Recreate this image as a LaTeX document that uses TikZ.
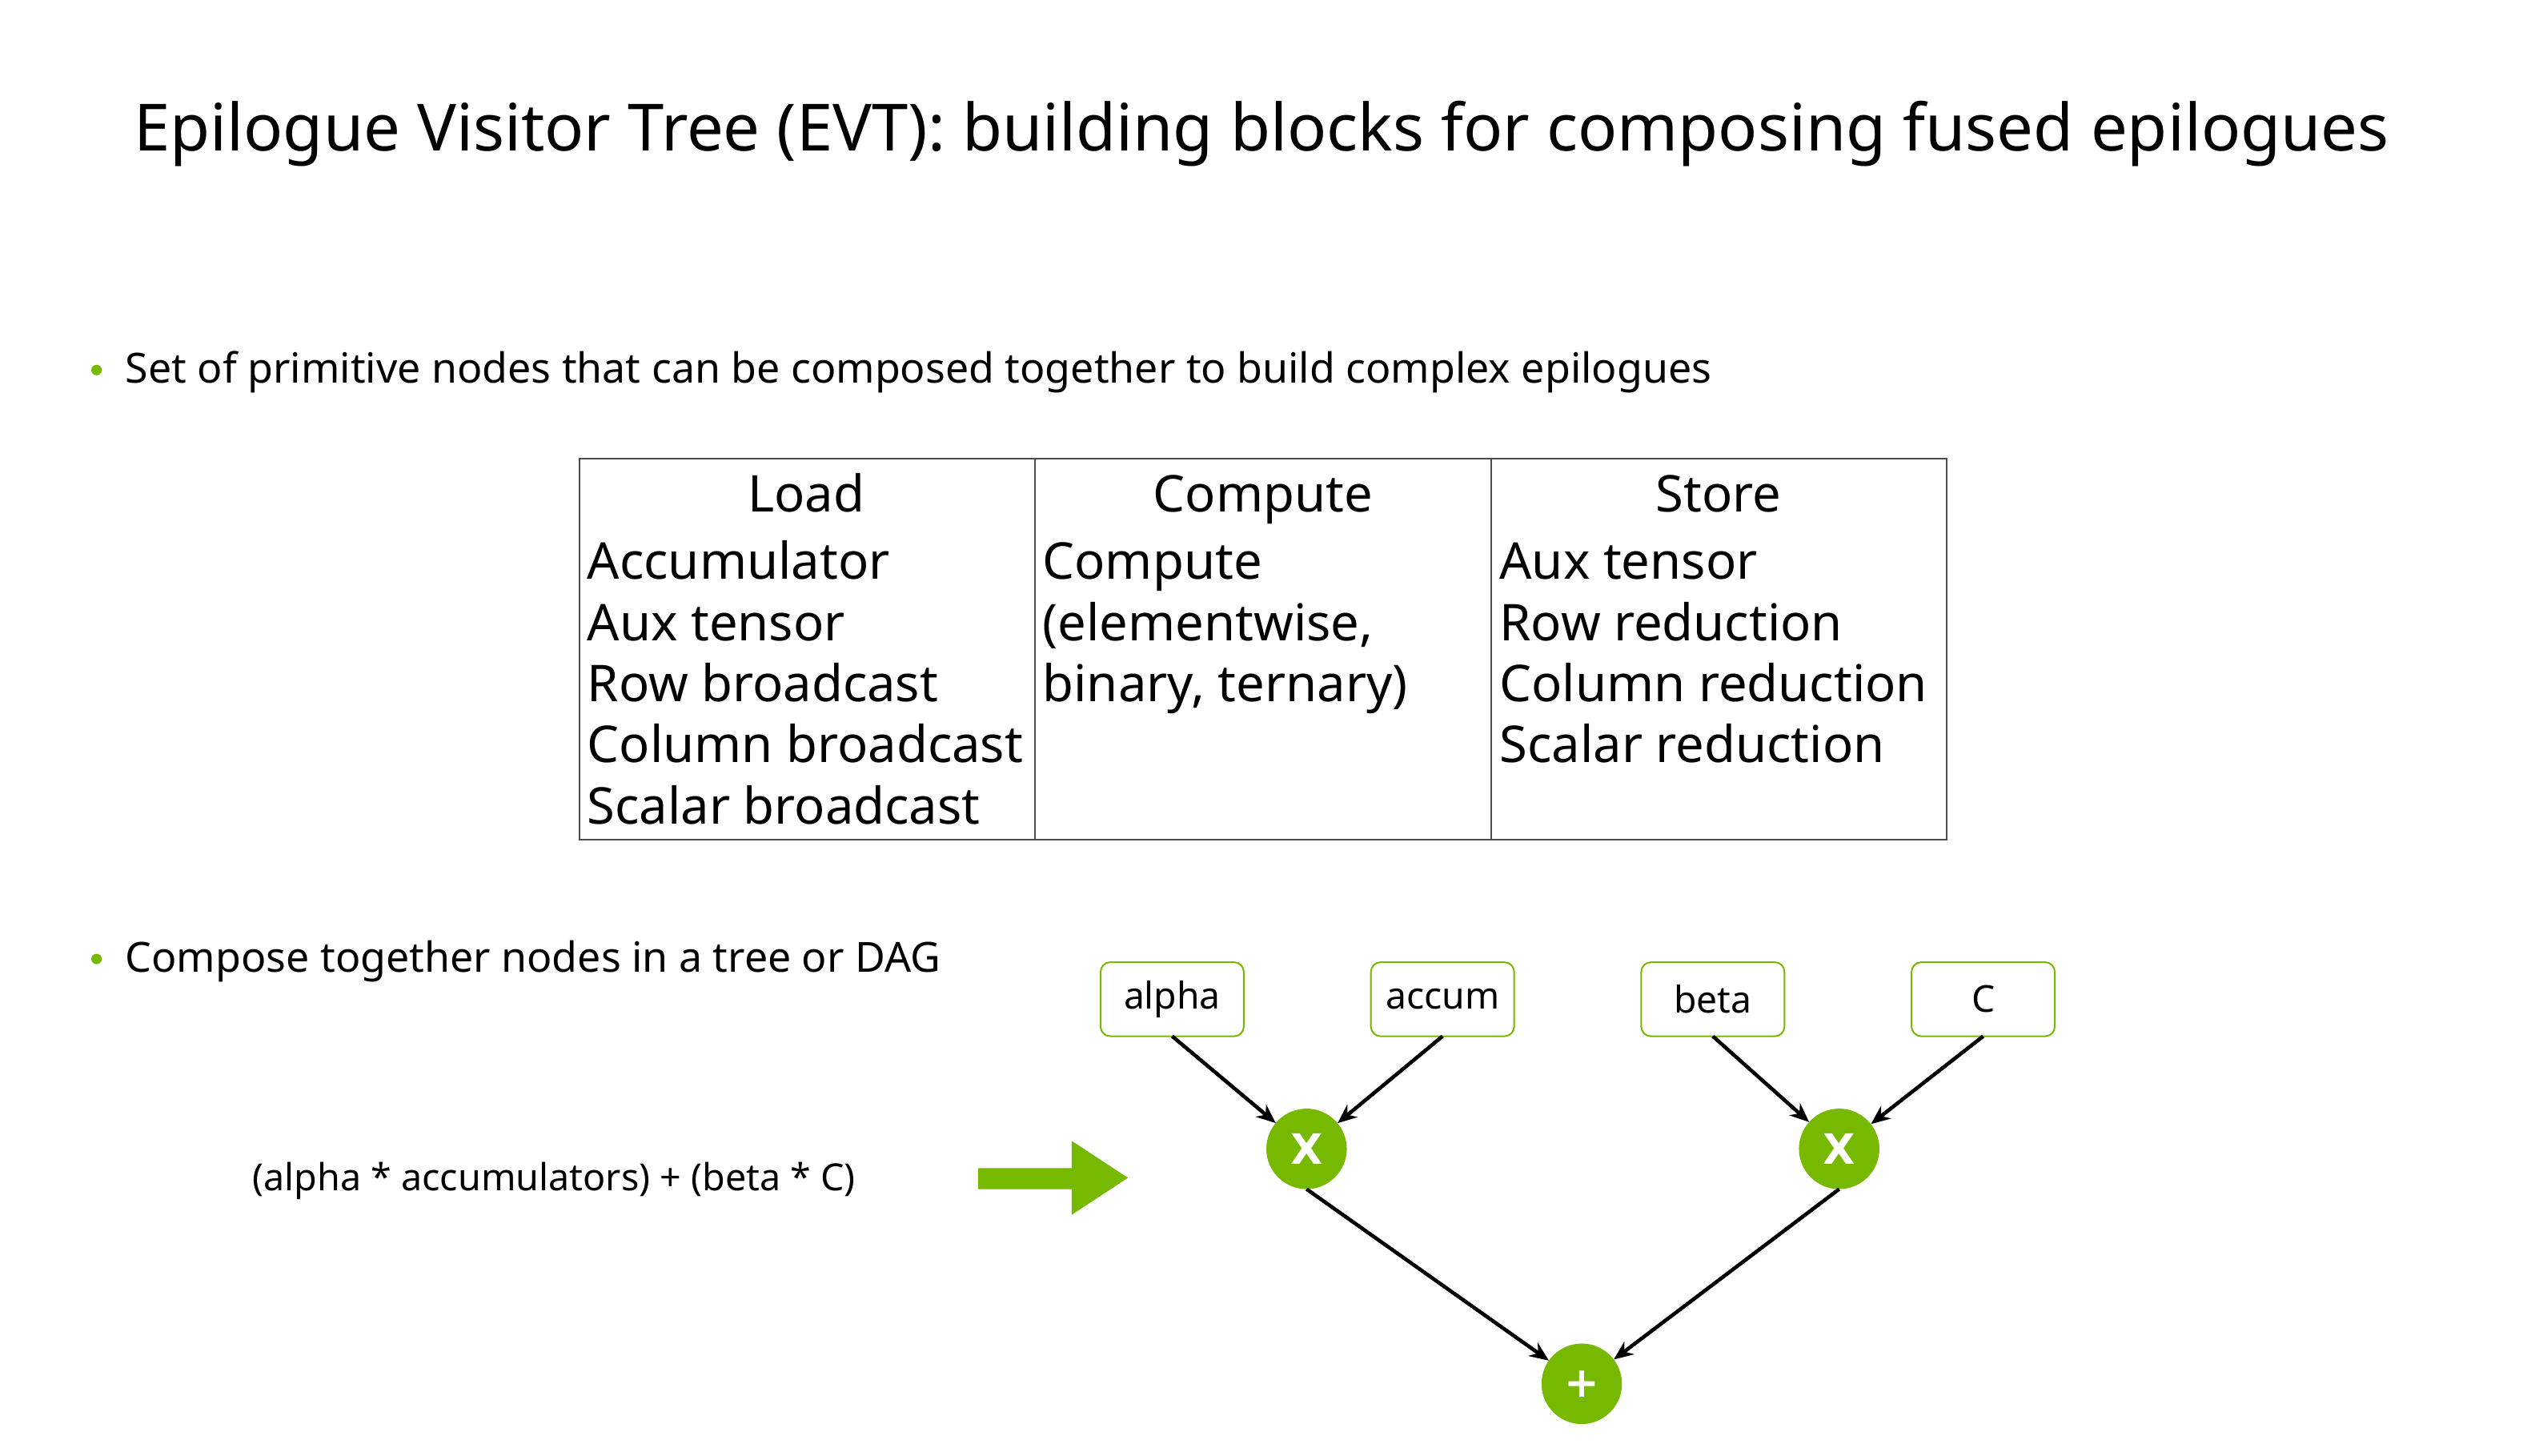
\documentclass[tikz,border=0pt]{standalone}
\usepackage{fontspec}
\setmainfont{Noto Sans}
\newfontfamily\opfont{DejaVu Sans}
\usetikzlibrary{arrows.meta}
\definecolor{nvgreen}{HTML}{76B900}
\begin{document}
\begin{tikzpicture}[x=1pt,y=-1pt,
  every node/.style={inner sep=0pt, outer sep=0pt},
  bul/.style={circle, fill=nvgreen, minimum size=6.5pt},
  btext/.style={anchor=base west, font=\fontsize{25.8}{30}\selectfont},
  cell/.style={anchor=base west, font=\fontsize{31.5}{36}\selectfont},
  head/.style={anchor=base, font=\fontsize{31.5}{36}\selectfont},
  leaf/.style={draw=nvgreen, line width=1pt, rounded corners=6pt, minimum width=89pt, minimum height=46pt, font=\fontsize{23}{27}\selectfont, fill=white},
  op/.style={circle, fill=nvgreen, minimum size=50pt, text=white, font=\opfont\fontsize{26}{30}\selectfont\bfseries},
  edge/.style={-{Stealth[length=12pt,width=10pt]}, line width=2.3pt},
  tline/.style={draw=black!70, line width=1pt}]
\useasboundingbox[fill=white] (0,0) rectangle (1568,904.4);

% title
\node[anchor=base, font=\fontsize{40.5}{46}\selectfont] (title) at (784,94) {Epilogue Visitor Tree (EVT): building blocks for composing fused epilogues};

% bullet 1
\node[bul] (b1) at (60,230) {};
\node[btext] (t1) at (78,238) {Set of primitive nodes that can be composed together to build complex epilogues};

% table
\draw[tline] (360,285) rectangle (1210,522);
\draw[tline] (643,285) -- (643,522);
\draw[tline] (927,285) -- (927,522);
\node[head] (hload) at (501,318) {Load};
\node[head] (hcomp) at (785,318) {Compute};
\node[head] (hstore) at (1068,318) {Store};
\node[cell] (l1) at (365,360) {Accumulator};
\node[cell] (l2) at (365,398) {Aux tensor};
\node[cell] (l3) at (365,436) {Row broadcast};
\node[cell] (l4) at (365,474) {Column broadcast};
\node[cell] (l5) at (365,512) {Scalar broadcast};
\node[cell] (c1) at (648,360) {Compute};
\node[cell] (c2) at (648,398) {(elementwise,};
\node[cell] (c3) at (648,436) {binary, ternary)};
\node[cell] (s1) at (932,360) {Aux tensor};
\node[cell] (s2) at (932,398) {Row reduction};
\node[cell] (s3) at (932,436) {Column reduction};
\node[cell] (s4) at (932,474) {Scalar reduction};

% bullet 2
\node[bul] (b2) at (60,596) {};
\node[btext] (t2) at (78,604) {Compose together nodes in a tree or DAG};

% formula
\node[anchor=base west, font=\fontsize{23.2}{27}\selectfont] (formula) at (157,740) {(alpha * accumulators) + (beta * C)};

% big green arrow
\fill[nvgreen] (608,726) -- (666,726) -- (666,709) -- (701,732) -- (666,755) -- (666,739) -- (608,739) -- cycle;

% tree
\node[leaf] (alpha) at (728.5,621) {alpha};
\node[leaf] (accum) at (896.5,621) {accum};
\node[leaf] (beta) at (1064.5,621) {beta};
\node[leaf] (cc) at (1232.5,621) {C};
\node[op] (m1) at (812,714) {X};
\node[op] (m2) at (1143,714) {X};
\node[op] (plus) at (983,860) {+};

\draw[edge] (alpha.south) -- (m1);
\draw[edge] (accum.south) -- (m1);
\draw[edge] (beta.south) -- (m2);
\draw[edge] (cc.south) -- (m2);
\draw[edge] (m1.south) -- (plus);
\draw[edge] (m2.south) -- (plus);
\end{tikzpicture}
\end{document}
